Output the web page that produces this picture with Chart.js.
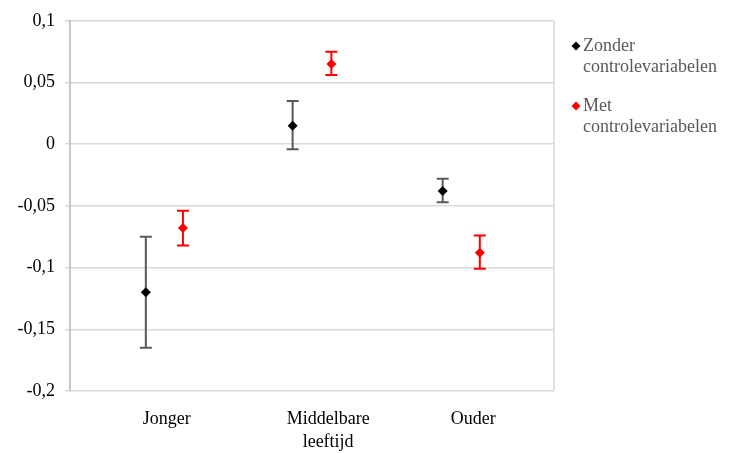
<!DOCTYPE html>
<html lang="nl">
<head>
<meta charset="utf-8">
<title>Effect per leeftijdsgroep</title>
<script src="https://cdn.jsdelivr.net/npm/chart.js@4/dist/chart.umd.min.js"></script>
<style>
    html, body { margin: 0; padding: 0; background: #fff; }
    canvas { display: block; }
</style>
</head>
<body>
<canvas id="grafiek" width="739" height="453"></canvas>
<script>
// ==========================
// DATA
// ==========================

const categorieen = ['Jonger', ['Middelbare', 'leeftijd'], 'Ouder'];
const categoriePlek = [0.6, 1.6, 2.5];

const reeksNamen = ['Zonder controlevariabelen', 'Met controlevariabelen'];

// zonder controlevariabelen
const zonderX = [0.47, 1.38, 2.31];
const zonderWaarde = [-0.120, 0.015, -0.038];
const zonderLaag = [-0.165, -0.004, -0.047];
const zonderHoog = [-0.075, 0.035, -0.028];

// met controlevariabelen
const metX = [0.70, 1.62, 2.54];
const metWaarde = [-0.068, 0.065, -0.088];
const metLaag = [-0.082, 0.056, -0.101];
const metHoog = [-0.054, 0.075, -0.074];

const yTicks = [-0.2, -0.15, -0.1, -0.05, 0, 0.05, 0.1];

const lettertype = '"Liberation Serif", "Times New Roman", serif';

// ==========================
// HULPFUNCTIES
// ==========================

function punten(xs, ys, laag, hoog) {
    return xs.map((x, i) => ({ x: x, y: ys[i], laag: laag[i], hoog: hoog[i] }));
}

function formatNL(v) {
    const r = Math.round(v * 100) / 100;
    return r === 0 ? '0' : String(r).replace('.', ',');
}

// foutbalken + rechterrand van het plotvlak
const foutbalken = {
    id: 'foutbalken',
    beforeDatasetsDraw(chart) {
        const ctx = chart.ctx;
        const x = chart.scales.x;
        const y = chart.scales.y;
        const area = chart.chartArea;

        ctx.save();
        ctx.strokeStyle = '#d9d9d9';
        ctx.lineWidth = 1.5;
        ctx.beginPath();
        ctx.moveTo(area.right, area.top);
        ctx.lineTo(area.right, area.bottom);
        ctx.stroke();

        chart.data.datasets.forEach(ds => {
            ctx.strokeStyle = ds.foutKleur;
            ctx.lineWidth = 2;
            ds.data.forEach(p => {
                const px = x.getPixelForValue(p.x);
                const top = y.getPixelForValue(p.hoog);
                const bot = y.getPixelForValue(p.laag);
                ctx.beginPath();
                ctx.moveTo(px, top);
                ctx.lineTo(px, bot);
                ctx.moveTo(px - 6, top);
                ctx.lineTo(px + 6, top);
                ctx.moveTo(px - 6, bot);
                ctx.lineTo(px + 6, bot);
                ctx.stroke();
            });
        });
        ctx.restore();
    }
};

// legenda rechts, tekst over twee regels
const legenda = {
    id: 'legenda',
    afterDraw(chart) {
        const ctx = chart.ctx;
        ctx.save();
        ctx.font = '18px ' + lettertype;
        ctx.textBaseline = 'middle';
        ctx.textAlign = 'left';

        chart.data.datasets.forEach((ds, i) => {
            const y0 = 46 + i * 60;
            // diamant
            ctx.fillStyle = ds.pointBackgroundColor;
            ctx.beginPath();
            ctx.moveTo(576, y0 - 4.5);
            ctx.lineTo(580.5, y0);
            ctx.lineTo(576, y0 + 4.5);
            ctx.lineTo(571.5, y0);
            ctx.closePath();
            ctx.fill();

            ctx.fillStyle = '#595959';
            const woorden = ds.label.split(' ');
            ctx.fillText(woorden[0], 583, y0);
            ctx.fillText(woorden.slice(1).join(' '), 583, y0 + 21);
        });
        ctx.restore();
    }
};

// ==========================
// GRAFIEK
// ==========================

const ctx = document.getElementById('grafiek');

new Chart(ctx, {
    type: 'scatter',
    data: {
        datasets: [
            {
                label: reeksNamen[0],
                data: punten(zonderX, zonderWaarde, zonderLaag, zonderHoog),
                pointStyle: 'rectRot',
                pointRadius: 5,
                pointHoverRadius: 5,
                pointBackgroundColor: '#000000',
                pointBorderColor: '#000000',
                pointBorderWidth: 0,
                foutKleur: '#595959'
            },
            {
                label: reeksNamen[1],
                data: punten(metX, metWaarde, metLaag, metHoog),
                pointStyle: 'rectRot',
                pointRadius: 5,
                pointHoverRadius: 5,
                pointBackgroundColor: '#ff0000',
                pointBorderColor: '#ff0000',
                pointBorderWidth: 0,
                foutKleur: '#ff0000'
            }
        ]
    },
    options: {
        responsive: false,
        animation: false,
        layout: { padding: { top: 19, right: 185, left: 0, bottom: 0 } },
        plugins: {
            legend: { display: false },
            tooltip: { enabled: false }
        },
        scales: {
            x: {
                type: 'linear',
                min: 0,
                max: 3,
                afterBuildTicks: scale => {
                    scale.ticks = categoriePlek.map(v => ({ value: v }));
                },
                afterFit: scale => { scale.height = 62; },
                grid: { display: false, drawTicks: false },
                border: { display: false },
                ticks: {
                    autoSkip: false,
                    maxRotation: 0,
                    padding: 17,
                    color: '#000000',
                    font: { family: lettertype, size: 18, lineHeight: 1.28 },
                    callback: (value, index) => categorieen[index]
                }
            },
            y: {
                min: -0.2,
                max: 0.1,
                afterBuildTicks: scale => {
                    scale.ticks = yTicks.map(v => ({ value: v }));
                },
                afterFit: scale => { scale.width = 70; },
                grid: {
                    color: '#d9d9d9',
                    lineWidth: 1.5,
                    tickLength: 5,
                    tickColor: '#d9d9d9'
                },
                border: { color: '#c8c8c8', width: 2 },
                ticks: {
                    padding: 10,
                    color: '#000000',
                    font: { family: lettertype, size: 18 },
                    callback: v => formatNL(v)
                }
            }
        }
    },
    plugins: [foutbalken, legenda]
});
</script>
</body>
</html>
